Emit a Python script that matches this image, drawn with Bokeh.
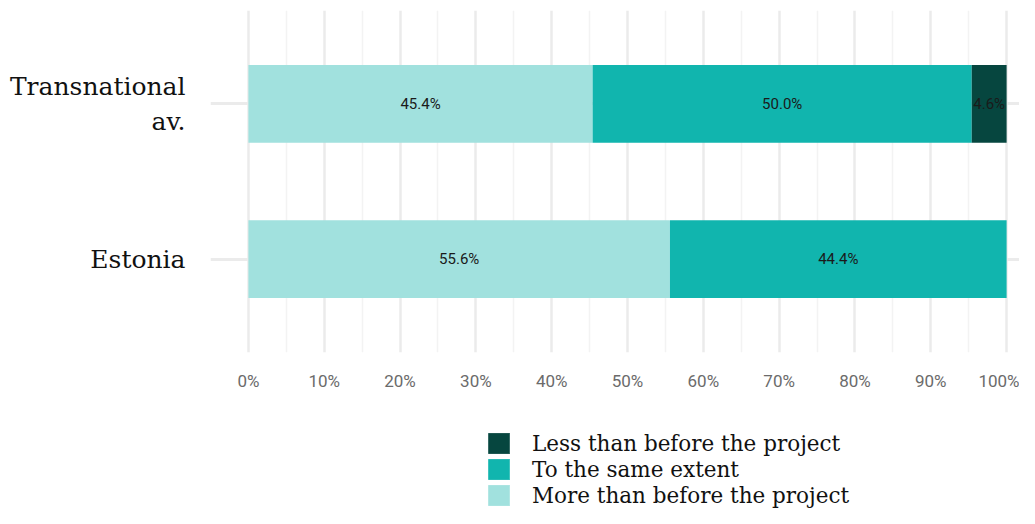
from bokeh.plotting import figure
from bokeh.layouts import column
from bokeh.models import (ColumnDataSource, Range1d, FixedTicker, PrintfTickFormatter,
                          Legend, LegendItem)
from bokeh.core.properties import value
from bokeh.embed import file_html
from bokeh.resources import INLINE

# ---- data ----
categories = ["Transnational\nav.", "Estonia"]
cat_pos = [2, 1]
more_than_before = [45.4, 55.6]
same_extent = [50.0, 44.4]
less_than_before = [4.6, 0.0]
series_keys = ["more", "same", "less"]
series_names = ["More than before the project", "To the same extent", "Less than before the project"]
series_colors = ["#a1e1de", "#11b5ae", "#06463f"]
x_ticks = [0, 10, 20, 30, 40, 50, 60, 70, 80, 90, 100]

src = ColumnDataSource(dict(y=cat_pos, more=more_than_before, same=same_extent, less=less_than_before))

W = 1019
p = figure(width=W, height=430, output_backend="svg", toolbar_location=None,
           x_range=Range1d(-5, 101.7), y_range=Range1d(0.4, 2.6),
           min_border_left=210, min_border_right=0, min_border_top=10, min_border_bottom=78)
p.outline_line_color = None
p.background_fill_color = "white"

renderers = p.hbar_stack(series_keys, y="y", height=0.5, source=src,
                         color=series_colors, line_width=0)

# labels
cols = [more_than_before, same_extent, less_than_before]
lx, ly, lt = [], [], []
for i, yv in enumerate(cat_pos):
    start = 0.0
    for c in cols:
        v = c[i]
        if v > 0:
            lx.append(start + v / 2)
            ly.append(yv)
            lt.append(f"{v:.1f}%")
        start += v
p.text(x=lx, y=ly, text=lt, text_align="center", text_baseline="middle",
       text_font=value("Roboto"), text_font_size="15px", text_color="#1a1a1a")

# axes
xa = p.xaxis[0]
xa.ticker = FixedTicker(ticks=x_ticks, minor_ticks=[-5] + [t + 5 for t in x_ticks])
xa.formatter = PrintfTickFormatter(format="%d%%")
xa.axis_line_color = None
xa.major_tick_line_color = None
xa.minor_tick_line_color = None
xa.major_label_text_font = "Roboto"
xa.major_label_text_font_size = "17px"
xa.major_label_text_color = "#6b6b6b"
xa.major_label_standoff = 12

ya = p.yaxis[0]
ya.ticker = FixedTicker(ticks=cat_pos)
ya.major_label_overrides = {cat_pos[i]: categories[i] for i in range(len(cat_pos))}
ya.axis_line_color = None
ya.major_tick_line_color = None
ya.minor_tick_line_color = None
ya.major_label_text_font = "DejaVu Serif"
ya.major_label_text_font_size = "25px"
ya.major_label_text_color = "#111111"
ya.major_label_standoff = 19

p.xgrid.grid_line_color = "#ebebeb"
p.xgrid.grid_line_width = 2.5
p.xgrid.minor_grid_line_color = "#f3f3f3"
p.xgrid.minor_grid_line_width = 1.5
p.ygrid.grid_line_color = "#ebebeb"
p.ygrid.grid_line_width = 3

# ---- legend panel (separate figure; its renderers are hidden, only the legend shows) ----
lg = figure(width=W, height=78, output_backend="svg", toolbar_location=None,
            x_range=Range1d(-5, 101.7), y_range=Range1d(0.4, 2.6),
            min_border_left=210, min_border_right=0, min_border_top=0, min_border_bottom=0)
lg.outline_line_color = None
lg.axis.visible = False
lg.grid.visible = False
lg_r = lg.hbar_stack(series_keys, y="y", height=0.5, source=src,
                     color=series_colors, line_width=0)
for r in lg_r:
    r.visible = False

legend = Legend(items=[LegendItem(label=series_names[i], renderers=[lg_r[i]]) for i in [2, 1, 0]],
                orientation="vertical", location=(275, 0), click_policy="none",
                inactive_fill_alpha=0,
                border_line_color=None, background_fill_alpha=0,
                label_text_font="DejaVu Serif", label_text_font_size="21.5px",
                label_text_color="#111111",
                glyph_width=27, glyph_height=26, label_height=24, spacing=0,
                label_standoff=20, padding=0, margin=0)
lg.add_layout(legend, "center")

layout = column(p, lg, spacing=0)
open("out.html", "w").write(file_html(layout, INLINE))
